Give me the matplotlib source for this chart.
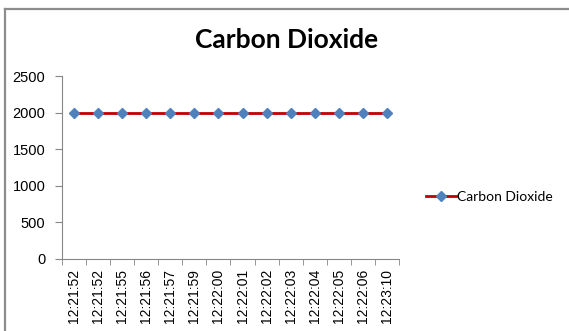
import matplotlib.pyplot as plt
from matplotlib.lines import Line2D

# ==========================
# Data
# ==========================

times = [
    "12:21:52", "12:21:52", "12:21:55", "12:21:56", "12:21:57",
    "12:21:59", "12:22:00", "12:22:01", "12:22:02", "12:22:03",
    "12:22:04", "12:22:05", "12:22:06", "12:23:10"
]

co2 = [2000, 2000, 2000, 2000, 2000, 2000, 2000,
       2000, 2000, 2000, 2000, 2000, 2000, 2000]

y_ticks = [0, 500, 1000, 1500, 2000, 2500]

W, H = 569, 331

# ==========================
# Figure
# ==========================

fig = plt.figure(figsize=(W / 100, H / 100), dpi=100)

# chart frame: only top and left edges are visible
fig.add_artist(Line2D([5 / W, 1], [1 - 9 / H, 1 - 9 / H],
                      transform=fig.transFigure,
                      color="#8c8c8c", linewidth=1.6))
fig.add_artist(Line2D([5 / W, 5 / W], [0, 1 - 9 / H],
                      transform=fig.transFigure,
                      color="#8c8c8c", linewidth=1.6))

ax = fig.add_axes([62 / W, 72 / H, 337 / W, 183 / H])

x = list(range(len(times)))

line, = ax.plot(
    x, co2,
    color="#c00000", linewidth=2,
    marker="D", markersize=5.5,
    markerfacecolor="#4f81bd", markeredgecolor="#4f81bd",
    label="Carbon Dioxide"
)

ax.set_xlim(-0.5, len(times) - 0.5)
ax.set_ylim(0, 2500)
ax.set_yticks(y_ticks)

ax.set_xticks(x)
ax.set_xticklabels(times, rotation=90, fontfamily="Liberation Sans",
                   fontsize=10)
ax.set_xticks([i - 0.5 for i in range(len(times) + 1)], minor=True)
ax.tick_params(axis="x", which="major", length=0, pad=7)
ax.tick_params(axis="x", which="minor", length=4, color="#868686")

ax.tick_params(axis="y", length=5, color="#868686", pad=7)
for lab in ax.get_yticklabels():
    lab.set_fontfamily("Liberation Sans")
    lab.set_fontsize(10.5)

for side in ["top", "right"]:
    ax.spines[side].set_visible(False)
for side in ["left", "bottom"]:
    ax.spines[side].set_color("#868686")

# ==========================
# Title
# ==========================

fig.text(286.5 / W, 1 - 40 / H, "Carbon Dioxide",
         ha="center", va="center",
         fontfamily="Lato", fontweight="bold", fontsize=19)

# ==========================
# Legend
# ==========================

fig.legend(
    handles=[line],
    loc="center left",
    bbox_to_anchor=(413 / W, 1 - 197 / H),
    frameon=False,
    handlelength=2.2,
    handletextpad=0.1,
    prop={"family": "Lato", "size": 10}
)

fig.savefig("out.png", dpi=100)
